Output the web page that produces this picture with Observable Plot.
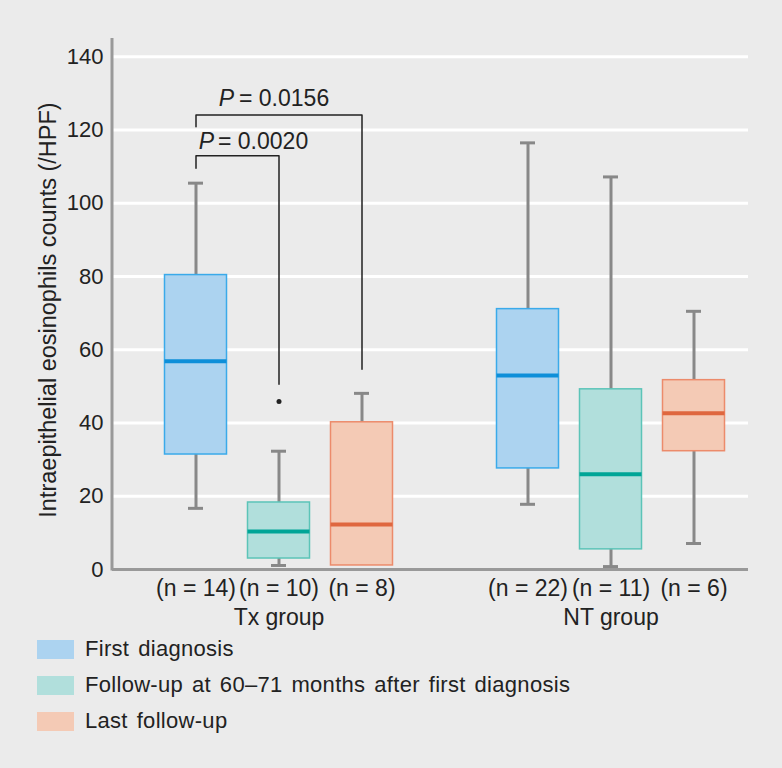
<!DOCTYPE html>
<html>
<head>
<meta charset="utf-8">
<script src="https://cdn.jsdelivr.net/npm/d3@7"></script>
<script src="https://cdn.jsdelivr.net/npm/@observablehq/plot@0.6"></script>
<style>
  html, body { margin: 0; padding: 0; background: #ebebeb; }
  body { width: 782px; height: 768px; overflow: hidden; font-family: "Liberation Sans", Arial, sans-serif; color: #222; }
  #legend { margin-left: 37px; }
  .row { display: flex; align-items: center; height: 36px; font-size: 22px; letter-spacing: 0.3px; word-spacing: 2.5px; }
  .sw { width: 37px; height: 19px; margin-right: 11px; flex: none; }
</style>
</head>
<body>
<div id="chart"></div>
<div id="legend"></div>
<script>
// ---- data ----
const slots = ["Tx-1", "Tx-2", "Tx-3", "gap", "NT-1", "NT-2", "NT-3"];
const boxSlots = ["Tx-1", "Tx-2", "Tx-3", "NT-1", "NT-2", "NT-3"];
const seriesNames = ["First diagnosis", "Follow-up at 60\u201371 months after first diagnosis", "Last follow-up"];
const boxSeries = [0, 1, 2, 0, 1, 2];
const nLabels = ["(n = 14)", "(n = 10)", "(n = 8)", "(n = 22)", "(n = 11)", "(n = 6)"];
const whiskerLow = [16.7, 1.1, 1.1, 17.8, 0.8, 7.1];
const q1 = [31.4, 3.0, 1.1, 27.6, 5.5, 32.3];
const median = [56.9, 10.4, 12.3, 53.0, 26.0, 42.7];
const q3 = [80.4, 18.3, 40.2, 71.1, 49.2, 51.7];
const whiskerHigh = [105.5, 32.3, 48.1, 116.5, 107.2, 70.5];
const outlierSlots = ["Tx-2"];
const outlierValues = [45.9];
const groupNames = ["Tx group", "NT group"];
const groupSlots = ["Tx-2", "NT-2"];
const yTicks = [0, 20, 40, 60, 80, 100, 120, 140];
const yLabel = "Intraepithelial eosinophils counts (/HPF)";
// significance brackets
const bracketFrom = ["Tx-1", "Tx-1"];
const bracketTo = ["Tx-2", "Tx-3"];
const bracketTop = [113.0, 124.1];
const bracketLeftEnd = [109.6, 120.9];
const bracketRightEnd = [50.6, 54.7];
const bracketP = ["= 0.0020", "= 0.0156"];
const bracketLabelY = [116.8, 128.6];

// ---- styles ----
const fills = ["#acd3f0", "#b1dfdc", "#f4cab5"];
const strokes = ["#3aaaea", "#5cc4b8", "#ec8b6b"];
const medians = ["#0e8fd9", "#00a597", "#df673f"];
const FONT = "\"Liberation Sans\", Arial, sans-serif";
const pDxP = [18, 38];
const pDxRest = [22, 43];

const boxes = boxSlots.map((s, i) => ({
  slot: s, series: boxSeries[i], n: nLabels[i],
  low: whiskerLow[i], q1: q1[i], median: median[i], q3: q3[i], high: whiskerHigh[i]
}));
const outliers = outlierSlots.map((s, i) => ({slot: s, value: outlierValues[i]}));
const groups = groupNames.map((g, i) => ({slot: groupSlots[i], name: g}));
const bracketPts = [];
bracketFrom.forEach((f, i) => {
  bracketPts.push({id: i, x: f, y: bracketLeftEnd[i]});
  bracketPts.push({id: i, x: f, y: bracketTop[i]});
  bracketPts.push({id: i, x: bracketTo[i], y: bracketTop[i]});
  bracketPts.push({id: i, x: bracketTo[i], y: bracketRightEnd[i]});
});
const pLabels = bracketFrom.map((f, i) => ({x: f, y: bracketLabelY[i], rest: bracketP[i], i}));

const leftAxisLine = (index, scales, values, dims) => {
  const l = document.createElementNS("http://www.w3.org/2000/svg", "line");
  l.setAttribute("x1", dims.marginLeft);
  l.setAttribute("x2", dims.marginLeft);
  l.setAttribute("y1", dims.marginTop);
  l.setAttribute("y2", dims.height - dims.marginBottom + 1.5);
  l.setAttribute("stroke", "#999");
  l.setAttribute("stroke-width", 3);
  return l;
};

const plot = Plot.plot({
  width: 782,
  height: 631,
  marginLeft: 112,
  marginRight: 34,
  marginTop: 38,
  marginBottom: 62,
  style: {background: "#ebebeb", fontFamily: FONT, overflow: "visible", color: "#222"},
  x: {type: "band", domain: slots, insetLeft: 40, insetRight: 11, padding: 0, axis: null},
  y: {domain: [0, 145], axis: null},
  marks: [
    Plot.ruleY(yTicks.filter(d => d > 0), {stroke: "white", strokeWidth: 3}),
    Plot.axisY({ticks: yTicks, tickSize: 0, tickPadding: 9, fontSize: 22, label: null, fill: "#222"}),
    Plot.text([yLabel], {frameAnchor: "left", textAnchor: "middle", rotate: -90, dx: -64, dy: 6, fontSize: 23.5, fill: "#222"}),
    Plot.ruleX(boxes, {x: "slot", y1: "low", y2: "high", stroke: "#888", strokeWidth: 3}),
    Plot.tickY(boxes.filter(d => d.low < d.q1 - 0.5), {x: "slot", y: "low", stroke: "#888", strokeWidth: 3, insetLeft: 34, insetRight: 34}),
    Plot.tickY(boxes, {x: "slot", y: "high", stroke: "#888", strokeWidth: 3, insetLeft: 34, insetRight: 34}),
    Plot.barY(boxes, {x: "slot", y1: "q1", y2: "q3", fill: d => fills[d.series], stroke: d => strokes[d.series], strokeWidth: 1.5, insetLeft: 10.5, insetRight: 10.5}),
    Plot.tickY(boxes, {x: "slot", y: "median", stroke: d => medians[d.series], strokeWidth: 4, insetLeft: 10.5, insetRight: 10.5}),
    Plot.dot(outliers, {x: "slot", y: "value", r: 2.5, fill: "#222", stroke: null}),
    Plot.line(bracketPts, {x: "x", y: "y", z: "id", stroke: "#222", strokeWidth: 1.5}),
    ...pLabels.map(d => Plot.text([d], {x: "x", y: "y", text: () => "P", fontStyle: "italic", textAnchor: "end", dx: pDxP[d.i], fontSize: 23, fill: "#222"})),
    ...pLabels.map(d => Plot.text([d], {x: "x", y: "y", text: "rest", textAnchor: "start", dx: pDxRest[d.i], fontSize: 23, fill: "#222"})),
    leftAxisLine,
    Plot.ruleY([0], {stroke: "#999", strokeWidth: 3}),
    Plot.text(boxes, {x: "slot", text: "n", frameAnchor: "bottom", dy: 26, fontSize: 23, fill: "#222"}),
    Plot.text(groups, {x: "slot", text: "name", frameAnchor: "bottom", dy: 55, fontSize: 23, fill: "#222"})
  ]
});
document.getElementById("chart").appendChild(plot);

// legend
const legend = document.getElementById("legend");
seriesNames.forEach((name, i) => {
  const row = document.createElement("div");
  row.className = "row";
  const sw = document.createElement("div");
  sw.className = "sw";
  sw.style.background = fills[i];
  const label = document.createElement("span");
  label.textContent = name;
  row.appendChild(sw);
  row.appendChild(label);
  legend.appendChild(row);
});
</script>
</body>
</html>
